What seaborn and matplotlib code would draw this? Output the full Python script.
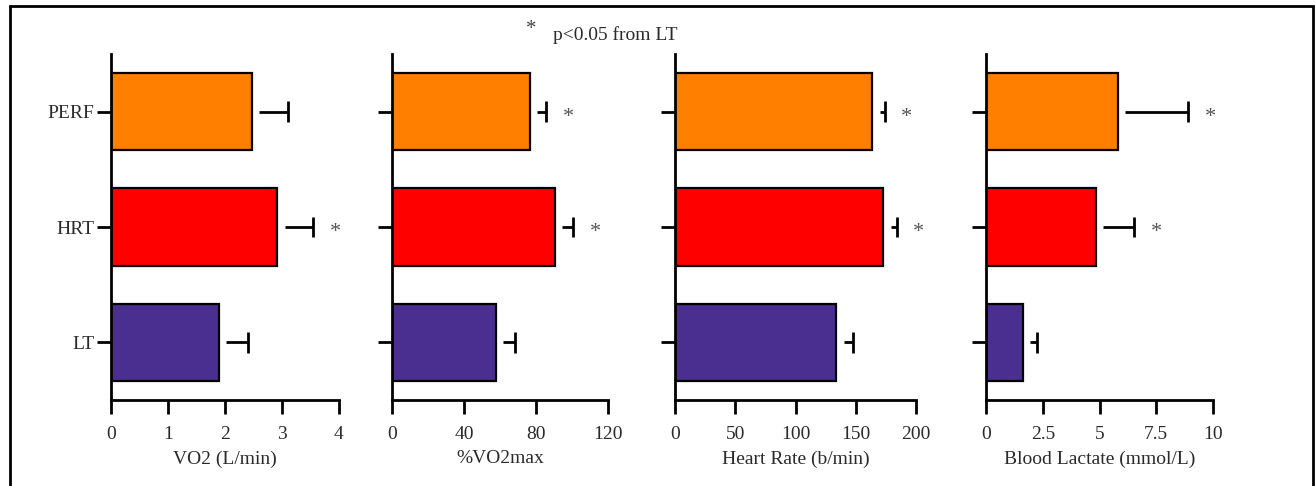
import pandas as pd
import numpy as np
import matplotlib.pyplot as plt
import seaborn as sns
from matplotlib.patches import Rectangle

conditions = ['PERF', 'HRT', 'LT']
colors = ['#FF8000', '#FF0000', '#4A2F91']

vo2 = [2.47, 2.92, 1.89]
vo2_sd = [0.63, 0.63, 0.52]
vo2_pct = [76.7, 90.6, 57.8]
vo2_pct_sd = [8.9, 10.0, 10.5]
heart_rate = [163.5, 172.6, 133.6]
heart_rate_sd = [10.5, 11.4, 14.1]
lactate = [5.81, 4.85, 1.63]
lactate_sd = [3.1, 1.67, 0.62]

# which bars carry a "*" (p<0.05 from LT)
sig_vo2 = [False, True, False]
sig_pct = [True, True, False]
sig_hr = [True, True, False]
sig_lac = [True, True, False]

panels = [
    ('VO2 (L/min)', vo2, vo2_sd, sig_vo2, [0, 1, 2, 3, 4], ['0', '1', '2', '3', '4']),
    ('%VO2max', vo2_pct, vo2_pct_sd, sig_pct, [0, 40, 80, 120], ['0', '40', '80', '120']),
    ('Heart Rate (b/min)', heart_rate, heart_rate_sd, sig_hr, [0, 50, 100, 150, 200],
     ['0', '50', '100', '150', '200']),
    ('Blood Lactate (mmol/L)', lactate, lactate_sd, sig_lac, [0, 2.5, 5, 7.5, 10],
     ['0', '2.5', '5', '7.5', '10']),
]

sns.set_style('white')
plt.rcParams['font.family'] = ['Liberation Serif', 'DejaVu Serif']
text_color = '#2a2a2a'
fs = 14

W, H = 1315, 486
fig = plt.figure(figsize=(W / 100, H / 100), dpi=100)

# panel boxes in pixels: left, width
boxes = [(111, 228), (392, 216), (675, 241), (986, 227)]
top_px, bottom_px = 54, 400

for i, ((label, vals, sds, sig, ticks, ticklabels), (left, width)) in enumerate(zip(panels, boxes)):
    ax = fig.add_axes([left / W, 1 - bottom_px / H, width / W, (bottom_px - top_px) / H])
    df = pd.DataFrame({'condition': conditions, 'value': vals})
    sns.barplot(data=df, y='condition', x='value', hue='condition', palette=colors,
                order=conditions, orient='h', width=0.67, errorbar=None, saturation=1,
                edgecolor='black', linewidth=1.6, legend=False, ax=ax)
    ypos = np.arange(len(conditions))
    vals_a = np.array(vals)
    ends = vals_a + np.array(sds)
    gap = 0.032 * ticks[-1]
    # one-sided SD bars, starting just off the bar end as in the original
    ax.hlines(ypos, vals_a + gap, ends, color='black', linewidth=2)
    ax.vlines(ends, ypos - 0.09, ypos + 0.09, color='black', linewidth=2)
    for y, e, flag in zip(ypos, ends, sig):
        if flag:
            ax.annotate('*', xy=(e, y), xytext=(12, -4), textcoords='offset points',
                        ha='left', va='center', fontsize=16, color='#555555')
    ax.set_xlim(0, ticks[-1])
    ax.set_ylim(2.5, -0.5)
    ax.set_xticks(ticks)
    ax.set_xticklabels(ticklabels)
    ax.set_xlabel(label, fontsize=fs, color=text_color, labelpad=5)
    ax.set_ylabel('')
    ax.set_yticks(ypos)
    ax.set_yticklabels(conditions if i == 0 else [])
    sns.despine(ax=ax)
    for sp in ['left', 'bottom']:
        ax.spines[sp].set_linewidth(2)
        ax.spines[sp].set_color('black')
    ax.tick_params(axis='x', bottom=True, direction='out', length=10, width=2, color='black',
                   labelsize=fs, labelcolor=text_color, pad=9)
    ax.tick_params(axis='y', left=True, direction='out', length=10, width=2, color='black',
                   labelsize=fs, labelcolor=text_color, pad=2)

fig.text(526 / W, 1 - 29 / H, '*', fontsize=15, color='#444444', ha='left', va='center')
fig.text(553 / W, 1 - 35 / H, 'p<0.05 from LT', fontsize=fs, color=text_color,
         ha='left', va='center')

fig.patches.append(Rectangle((10 / W, -0.01), 1303 / W, 1 - 6 / H + 0.01,
                             transform=fig.transFigure, fill=False,
                             edgecolor='black', linewidth=2))

fig.savefig('out.png', dpi=100)
